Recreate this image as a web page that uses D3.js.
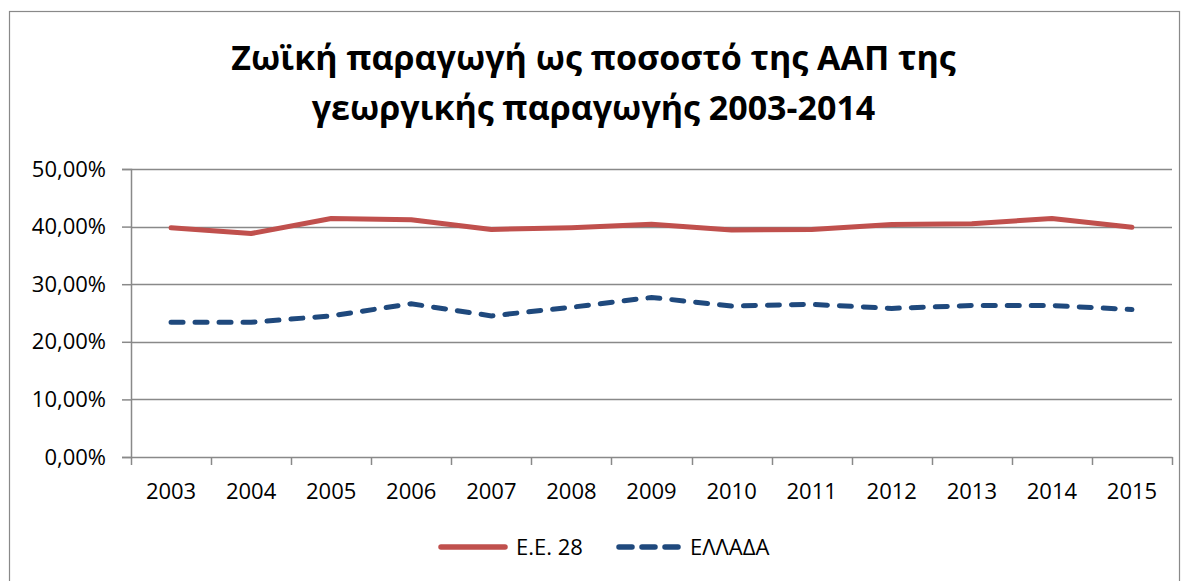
<!DOCTYPE html>
<html>
<head>
<meta charset="utf-8">
<script src="https://cdn.jsdelivr.net/npm/d3@7"></script>
<style>
  body { margin: 0; background: #fff; }
  svg { display: block; font-family: "Open Sans", "Noto Sans", sans-serif; }
</style>
</head>
<body>
<div class="viz"></div>
<script>
// years on the horizontal axis
const years = ['2003', '2004', '2005', '2006', '2007', '2008', '2009', '2010', '2011', '2012', '2013', '2014', '2015'];
// share of animal production (%)
const eu28 = [39.8, 38.8, 41.4, 41.2, 39.5, 39.8, 40.4, 39.4, 39.5, 40.35, 40.5, 41.4, 39.9];
const greece = [23.4, 23.4, 24.5, 26.6, 24.5, 26.0, 27.7, 26.2, 26.5, 25.8, 26.3, 26.3, 25.6];
const yTicks = [0, 10, 20, 30, 40, 50];
const seriesNames = ['Ε.Ε. 28', 'ΕΛΛΑΔΑ'];
const titleLines = ['Ζωϊκή παραγωγή ως ποσοστό της ΑΑΠ της', 'γεωργικής παραγωγής 2003-2014'];

const W = 1187;
const H = 581;
const margin = { top: 169, right: 15, bottom: 124, left: 131 };
const width = W - margin.left - margin.right;
const height = H - margin.top - margin.bottom;

const grey = '#898989';

const svg = d3.select('.viz')
  .append('svg')
  .attr('width', W)
  .attr('height', H);

// outer chart frame
svg.append('rect')
  .attr('x', 9.5)
  .attr('y', 11.5)
  .attr('width', 1170)
  .attr('height', 600)
  .attr('fill', 'none')
  .attr('stroke', grey)
  .attr('stroke-width', 1.2);

// title
svg.append('g')
  .selectAll('text')
  .data(titleLines)
  .enter()
  .append('text')
  .attr('x', W / 2)
  .attr('y', (d, i) => 70 + i * 50)
  .attr('text-anchor', 'middle')
  .attr('font-size', '34px')
  .attr('font-weight', 'bold')
  .attr('fill', '#000')
  .text(d => d);

const g = svg.append('g')
  .attr('transform', `translate(${margin.left} ${margin.top})`);

const x = d3.scaleBand()
  .domain(years)
  .range([0, width]);

const y = d3.scaleLinear()
  .domain([0, 50])
  .range([height, 0]);

// horizontal grid lines
g.append('g')
  .selectAll('line')
  .data(yTicks.filter(d => d > 0))
  .enter()
  .append('line')
  .attr('x1', 0)
  .attr('x2', width)
  .attr('y1', d => Math.round(y(d)) + 0.5)
  .attr('y2', d => Math.round(y(d)) + 0.5)
  .attr('stroke', grey)
  .attr('stroke-width', 1.5);

// y axis
const yAxis = d3.axisLeft(y)
  .tickValues(yTicks)
  .tickSize(9)
  .tickPadding(16)
  .tickFormat(d => d3.format('.2f')(d).replace('.', ',') + '%');

g.append('g')
  .attr('class', 'axis y-axis')
  .call(yAxis);

// x axis with ticks on the category boundaries
const xAxisG = g.append('g')
  .attr('class', 'axis x-axis')
  .attr('transform', `translate(0 ${height})`)
  .call(d3.axisBottom(x).tickSize(0).tickPadding(26));

xAxisG.selectAll('.boundary')
  .data(d3.range(years.length + 1))
  .enter()
  .append('line')
  .attr('class', 'boundary')
  .attr('x1', i => Math.round(i * x.step()) + 0.5)
  .attr('x2', i => Math.round(i * x.step()) + 0.5)
  .attr('y1', 0)
  .attr('y2', 8)
  .attr('stroke', grey)
  .attr('stroke-width', 1.5);

svg.selectAll('.axis path, .axis .tick line')
  .attr('stroke', grey)
  .attr('stroke-width', 1.5);
svg.selectAll('.axis text')
  .attr('font-size', '22px')
  .attr('fill', '#000')
  .attr('font-family', '"Open Sans", sans-serif');

// the lines
const line = d3.line()
  .x((d, i) => x(years[i]) + x.bandwidth() / 2)
  .y(d => y(d));

g.append('path')
  .attr('d', line(greece))
  .attr('fill', 'none')
  .attr('stroke', '#1f497d')
  .attr('stroke-width', 5)
  .attr('stroke-linecap', 'round')
  .attr('stroke-dasharray', '12 12');

g.append('path')
  .attr('d', line(eu28))
  .attr('fill', 'none')
  .attr('stroke', '#c0504d')
  .attr('stroke-width', 5)
  .attr('stroke-linecap', 'round')
  .attr('stroke-linejoin', 'round');

// legend
const legend = svg.append('g')
  .attr('transform', 'translate(0 547)');
const legendItems = [
  { name: seriesNames[0], color: '#c0504d', dash: null, x: 441, len: 64 },
  { name: seriesNames[1], color: '#1f497d', dash: '13 10', x: 619, len: 60 },
];
const item = legend.selectAll('g')
  .data(legendItems)
  .enter()
  .append('g')
  .attr('transform', d => `translate(${d.x} 0)`);
item.append('line')
  .attr('x1', 0)
  .attr('x2', d => d.len)
  .attr('y1', 0)
  .attr('y2', 0)
  .attr('stroke', d => d.color)
  .attr('stroke-width', 5.5)
  .attr('stroke-linecap', 'round')
  .attr('stroke-dasharray', d => d.dash);
item.append('text')
  .attr('x', d => d.len + 11)
  .attr('y', 8)
  .attr('font-size', '22px')
  .attr('fill', '#000')
  .text(d => d.name);
</script>
</body>
</html>
